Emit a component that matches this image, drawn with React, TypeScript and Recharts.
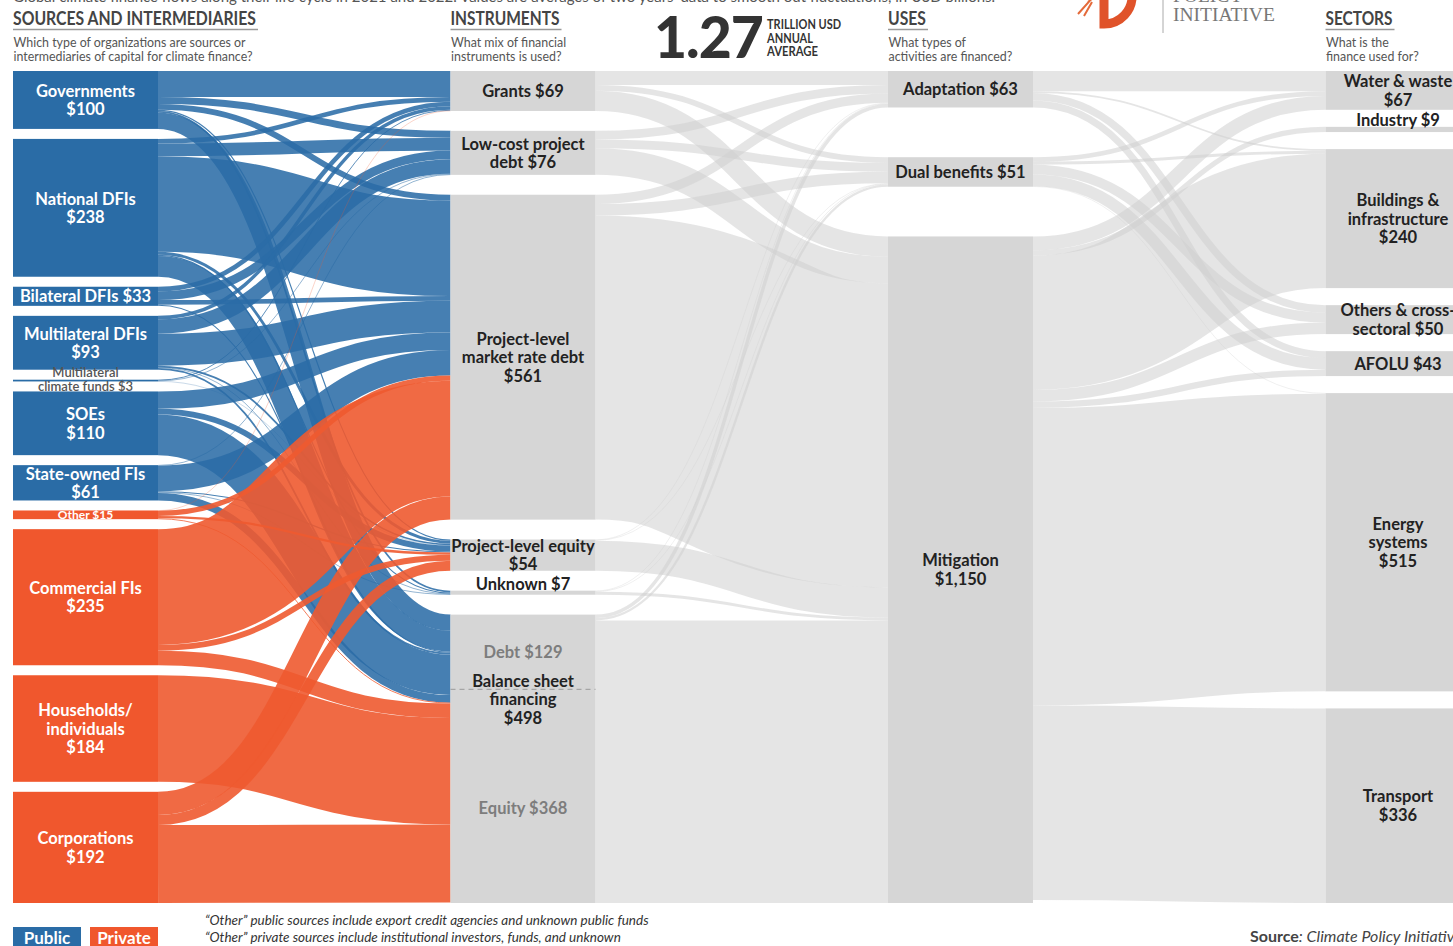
import React from 'react'
import { Sankey } from 'recharts'

// Global climate finance, 2021/2022 annual average, USD bn
const SOURCES = ['Governments', 'National DFIs', 'Bilateral DFIs', 'Multilateral DFIs', 'Multilateral climate funds', 'SOEs', 'State-owned FIs', 'Other', 'Commercial FIs', 'Households/individuals', 'Corporations']
const SOURCE_KIND = ['public', 'public', 'public', 'public', 'public', 'public', 'public', 'private', 'private', 'private', 'private']
const INSTRUMENTS = ['Grants', 'Low-cost project debt', 'Project-level market rate debt', 'Project-level equity', 'Unknown', 'Balance sheet financing']
const USES = ['Adaptation', 'Dual benefits', 'Mitigation']
const SECTORS = ['Water & waste', 'Industry', 'Buildings & infrastructure', 'Others & cross-sectoral', 'AFOLU', 'Energy systems', 'Transport']

// rows = SOURCES, cols = INSTRUMENTS
const SOURCE_TO_INSTRUMENT = [
  [45, 12, 10, 2, 3, 28],
  [8, 22, 165, 5, 2, 36],
  [8, 15, 8, 0, 0, 2],
  [6, 25, 55, 3, 1, 3],
  [1.5, 1, 0, 0.5, 0, 0],
  [0, 0, 30, 10, 0, 70],
  [0, 1, 44, 2, 1, 13],
  [0.5, 0, 9, 4, 0, 1.5],
  [0, 0, 200, 10, 0, 25],
  [0, 0, 0, 0, 0, 184],
  [0, 0, 40, 17.5, 0, 134.5],
]
// rows = INSTRUMENTS, cols = USES
const INSTRUMENT_TO_USE = [
  [24, 10, 35],
  [15, 15, 46],
  [16, 20, 525],
  [1, 1, 52],
  [1, 1, 5],
  [6, 4, 488],
]
// rows = USES, cols = SECTORS
const USE_TO_SECTOR = [
  [35, 0, 3, 13, 12, 0, 0],
  [8, 0, 5, 17, 20, 1, 0],
  [24, 9, 232, 20, 11, 514, 336],
]
const BALANCE_SHEET_DEBT = 129

const LABELS: Record<string, string[]> = {
  'Governments': ['Governments', '$100'],
  'National DFIs': ['National DFIs', '$238'],
  'Bilateral DFIs': ['Bilateral DFIs $33'],
  'Multilateral DFIs': ['Multilateral DFIs', '$93'],
  'Multilateral climate funds': ['Multilateral', 'climate funds $3'],
  'SOEs': ['SOEs', '$110'],
  'State-owned FIs': ['State-owned FIs', '$61'],
  'Other': ['Other $15'],
  'Commercial FIs': ['Commercial FIs', '$235'],
  'Households/individuals': ['Households/', 'individuals', '$184'],
  'Corporations': ['Corporations', '$192'],
  'Grants': ['Grants $69'],
  'Low-cost project debt': ['Low-cost project', 'debt $76'],
  'Project-level market rate debt': ['Project-level', 'market rate debt', '$561'],
  'Project-level equity': ['Project-level equity', '$54'],
  'Unknown': ['Unknown $7'],
  'Balance sheet financing': ['Balance sheet', 'financing', '$498'],
  'Adaptation': ['Adaptation $63'],
  'Dual benefits': ['Dual benefits $51'],
  'Mitigation': ['Mitigation', '$1,150'],
  'Water & waste': ['Water & waste', '$67'],
  'Industry': ['Industry $9'],
  'Buildings & infrastructure': ['Buildings &', 'infrastructure', '$240'],
  'Others & cross-sectoral': ['Others & cross-', 'sectoral $50'],
  'AFOLU': ['AFOLU $43'],
  'Energy systems': ['Energy', 'systems', '$515'],
  'Transport': ['Transport', '$336'],
}
const BS_SUBLABELS = ['Debt $129', 'Equity $368']

const HEADER_TITLES = ['SOURCES AND INTERMEDIARIES', 'INSTRUMENTS', 'USES', 'SECTORS']
const HEADER_SUBS = [
  ['Which type of organizations are sources or', 'intermediaries of capital for climate finance?'],
  ['What mix of financial', 'instruments is used?'],
  ['What types of', 'activities are financed?'],
  ['What is the', 'finance used for?'],
]
const TOTAL_UNITS = ['TRILLION USD', 'ANNUAL', 'AVERAGE']

const TITLE_W = [243, 109, 38, 67]
const UNIT_W = [74, 46, 51]

const COLUMNS = [SOURCES, INSTRUMENTS, USES, SECTORS]
const NODES = COLUMNS.flat().map(name => ({ name }))
const idx = (name: string) => NODES.findIndex(n => n.name === name)

const LINKS: { source: number; target: number; value: number }[] = []
const addLinks = (from: string[], to: string[], m: number[][]) => {
  m.forEach((row, i) => row.forEach((v, j) => {
    if (v > 0) LINKS.push({ source: idx(from[i]), target: idx(to[j]), value: v })
  }))
}
addLinks(SOURCES, INSTRUMENTS, SOURCE_TO_INSTRUMENT)
addLinks(INSTRUMENTS, USES, INSTRUMENT_TO_USE)
addLinks(USES, SECTORS, USE_TO_SECTOR)

const NODE_VALUE: Record<string, number> = {}
NODES.forEach((n, i) => {
  const inV = LINKS.filter(l => l.target === i).reduce((s, l) => s + l.value, 0)
  const outV = LINKS.filter(l => l.source === i).reduce((s, l) => s + l.value, 0)
  NODE_VALUE[n.name] = Math.max(inV, outV)
})

const BLUE = '#2a6ca6'
const RED = '#f0572d'
const GRAY_NODE = '#d6d6d6'
const FONT = 'Lato, "Open Sans", sans-serif'

const TOP = 71
const INNER_H = 832
const PAD = 10
const NODE_W = 145
const COL_STEP = 437.5

// spread leftover height of shorter columns evenly over their gaps
function shift(name: string, ky: number) {
  const col = COLUMNS.find(c => c.includes(name))!
  if (col.length < 2) return 0
  const used = col.reduce((s, n) => s + NODE_VALUE[n], 0) * ky + (col.length - 1) * PAD
  return col.indexOf(name) * (INNER_H - used) / (col.length - 1)
}

function SankeyLink(props: any) {
  const { sourceX, targetX, sourceY, targetY, sourceControlX, targetControlX, linkWidth, payload } = props
  const ky = linkWidth / payload.value
  const sName = payload.source.name
  const sy = sourceY + shift(sName, ky)
  const ty = targetY + shift(payload.target.name, ky)
  const si = SOURCES.indexOf(sName)
  let stroke = '#cfcfcf'
  let op = 0.55
  if (si >= 0) {
    stroke = SOURCE_KIND[si] === 'public' ? BLUE : '#ee5a30'
    op = SOURCE_KIND[si] === 'public' ? 0.87 : 0.9
  }
  return (
    <path
      d={`M${sourceX},${sy}C${sourceControlX},${sy} ${targetControlX},${ty} ${targetX},${ty}`}
      fill="none" stroke={stroke} strokeOpacity={op} strokeWidth={linkWidth}
    />
  )
}

function SankeyNode(props: any) {
  const { x, width, height, payload } = props
  const name = payload.name
  const ky = height / payload.value
  const y = props.y + shift(name, ky)
  const si = SOURCES.indexOf(name)
  const fill = si >= 0 ? (SOURCE_KIND[si] === 'public' ? BLUE : RED) : GRAY_NODE
  const textColor = si >= 0 ? '#fff' : '#222'
  const lines = LABELS[name] || [name]
  const cx = x + width / 2
  const LH = 18.5
  let cy = y + height / 2
  const extra: React.ReactNode[] = []

  if (name === 'Industry' || name === 'Unknown') cy = y - 7
  if (name === 'Balance sheet financing') {
    const split = y + BALANCE_SHEET_DEBT * ky
    cy = split + 10
    extra.push(
      <line key="d" x1={x} x2={x + width} y1={split} y2={split} stroke="#999" strokeDasharray="5 4" />,
      <text key="t1" x={cx} y={(y + split) / 2} textAnchor="middle" dominantBaseline="central"
        fontFamily={FONT} fontWeight={700} fontSize={16.5} fill="#7d7d7d">{BS_SUBLABELS[0]}</text>,
      <text key="t2" x={cx} y={(split + y + height) / 2 + 12} textAnchor="middle" dominantBaseline="central"
        fontFamily={FONT} fontWeight={700} fontSize={16.5} fill="#7d7d7d">{BS_SUBLABELS[1]}</text>,
    )
  }

  if (name === 'Multilateral climate funds') {
    return (
      <g>
        <rect x={x} y={y} width={width} height={height} fill={fill} />
        <text x={cx} y={y - 2.5} textAnchor="middle" fontFamily={FONT} fontWeight={600} fontSize={13} fill="#555">{lines[0]}</text>
        <text x={cx} y={y + height + 9.6} textAnchor="middle" fontFamily={FONT} fontWeight={600} fontSize={13} fill="#555">{lines[1]}</text>
      </g>
    )
  }

  const fs = name === 'Other' ? 12 : 16.5
  return (
    <g>
      <rect x={x} y={y} width={width} height={height} fill={fill} />
      {extra}
      {lines.map((l, i) => (
        <text key={i} x={cx} y={cy + (i - (lines.length - 1) / 2) * LH} textAnchor="middle" dominantBaseline="central"
          fontFamily={FONT} fontWeight={700} fontSize={fs} fill={textColor}>{l}</text>
      ))}
    </g>
  )
}

export default function App() {
  return (
    <div style={{ position: 'absolute', left: 0, top: 0, width: 1453, height: 946, overflow: 'hidden', background: '#fff', fontFamily: FONT, color: '#333' }}>
      <div style={{ position: 'absolute', left: 13, top: -13, fontSize: 15, color: '#555', whiteSpace: 'nowrap' }}>
        Global climate finance flows along their life cycle in 2021 and 2022. Values are averages of two years’ data to smooth out fluctuations, in USD billions.
      </div>

      <svg style={{ position: 'absolute', left: 0, top: 0 }} width={1453} height={70}>
        {HEADER_TITLES.map((t, i) => {
          const x0 = 13 + i * COL_STEP
          return (
            <g key={t}>
              <text x={x0} y={25} fontFamily={FONT} fontWeight={700} fontSize={18} fill="#444"
                textLength={TITLE_W[i]} lengthAdjust="spacingAndGlyphs">{t}</text>
              <line x1={x0} x2={x0 + TITLE_W[i] + 2} y1={29.5} y2={29.5} stroke="#9a9a9a" strokeWidth={1.5} />
              {HEADER_SUBS[i].map((s, k) => (
                <text key={s} x={x0 + 0.5} y={47 + k * 14} fontFamily={FONT} fontSize={12.4} fill="#555">{s}</text>
              ))}
            </g>
          )
        })}
        <text x={654} y={58} fontFamily={FONT} fontWeight={900} fontSize={57} letterSpacing={-1} fill="#333">1.27</text>
        {TOTAL_UNITS.map((u, k) => (
          <text key={u} x={767} y={29 + k * 13.7} fontFamily={FONT} fontWeight={700} fontSize={13.5} fill="#333"
            textLength={UNIT_W[k]} lengthAdjust="spacingAndGlyphs">{u}</text>
        ))}
        <path d="M1104,-12 L1104,24 A28,28 0 0 0 1132,-6" fill="none" stroke="#e0532a" strokeWidth={9} />
        <path d="M1094,-4 L1078,14 M1092,2 L1084,16 M1098,-6 L1088,2" stroke="#e46a3a" strokeWidth={2} />
        <line x1={1163} x2={1163} y1={0} y2={33} stroke="#aaa" />
        <text x={1173} y={2} fontFamily='"Liberation Serif", serif' fontSize={19.5} fill="#777">POLICY</text>
        <text x={1173} y={21} fontFamily='"Liberation Serif", serif' fontSize={19.5} fill="#777">INITIATIVE</text>
      </svg>

      <div style={{ position: 'absolute', left: 0, top: 0 }}>
        <Sankey
          width={1500}
          height={946}
          data={{ nodes: NODES, links: LINKS }}
          nodeWidth={NODE_W}
          nodePadding={PAD}
          iterations={0}
          sort={false}
          linkCurvature={0.5}
          margin={{ top: TOP, bottom: 946 - TOP - INNER_H, left: 13, right: 1500 - 13 - (3 * COL_STEP + NODE_W) }}
          node={<SankeyNode />}
          link={<SankeyLink />}
        />
      </div>

      <div style={{ position: 'absolute', left: 13, top: 927, width: 68, height: 22, background: BLUE, color: '#fff', fontSize: 17, fontWeight: 700, textAlign: 'center', lineHeight: '22px' }}>Public</div>
      <div style={{ position: 'absolute', left: 90, top: 927, width: 68, height: 22, background: RED, color: '#fff', fontSize: 17, fontWeight: 700, textAlign: 'center', lineHeight: '22px' }}>Private</div>
      <div style={{ position: 'absolute', left: 205, top: 912, fontSize: 13.5, fontStyle: 'italic', lineHeight: '17px', color: '#333' }}>
        <div>“Other” public sources include export credit agencies and unknown public funds</div>
        <div>“Other” private sources include institutional investors, funds, and unknown</div>
      </div>
      <div style={{ position: 'absolute', left: 1250, top: 926, fontSize: 16, color: '#444', whiteSpace: 'nowrap' }}>
        <span style={{ fontWeight: 700 }}>Source</span><span style={{ fontStyle: 'italic' }}>: Climate Policy Initiative</span>
      </div>
    </div>
  )
}
